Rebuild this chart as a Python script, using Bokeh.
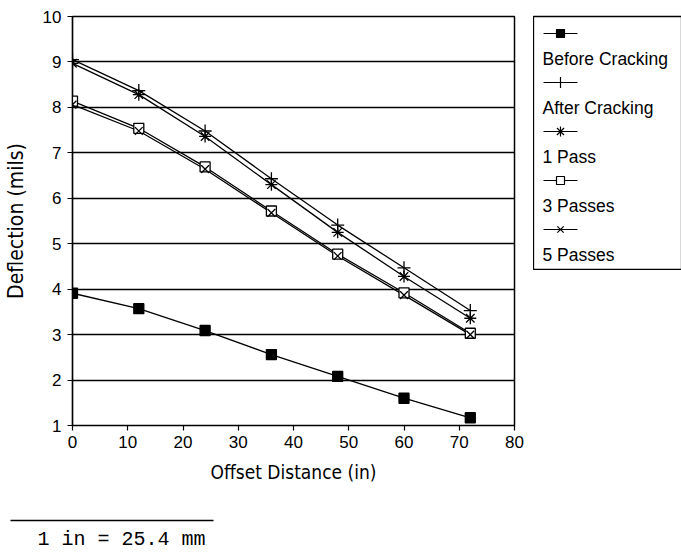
from bokeh.plotting import figure
from bokeh.layouts import row, column
from bokeh.models import Range1d, FixedTicker
from bokeh.core.properties import value
from bokeh.embed import file_html
from bokeh.resources import INLINE

offset = [0, 12, 24, 36, 48, 60, 72]
before_cracking = [3.91, 3.57, 3.09, 2.56, 2.08, 1.60, 1.17]
after_cracking = [9.05, 8.37, 7.48, 6.43, 5.41, 4.47, 3.53]
one_pass = [8.97, 8.28, 7.36, 6.30, 5.25, 4.28, 3.36]
three_passes = [8.14, 7.54, 6.69, 5.72, 4.77, 3.92, 3.03]
five_passes = [8.06, 7.48, 6.64, 5.68, 4.73, 3.87, 3.00]

labels = ["Before Cracking", "After Cracking", "1 Pass", "3 Passes", "5 Passes"]
series = [before_cracking, after_cracking, one_pass, three_passes, five_passes]
markers = ["square", "cross", "asterisk", "square", "x"]
fills = ["black", None, None, "white", None]
msizes = [10, 13, 12, 10, 11]

x_ticks = [0, 10, 20, 30, 40, 50, 60, 70, 80]
y_ticks = [1, 2, 3, 4, 5, 6, 7, 8, 9, 10]

TICK_FONT = "Liberation Sans"
TITLE_FONT = "'DejaVu Sans Condensed', 'DejaVu Sans'"

p = figure(frame_width=442, frame_height=409, min_border_left=63, min_border_right=19,
           min_border_top=16, min_border_bottom=70,
           x_range=Range1d(0, 80), y_range=Range1d(1, 10),
           output_backend="svg", toolbar_location=None)
p.outline_line_color = "black"
p.outline_line_width = 1.5
p.background_fill_color = "white"
p.border_fill_color = "white"
p.xgrid.visible = False
p.ygrid.grid_line_color = "black"
p.ygrid.grid_line_width = 1.4
p.ygrid.ticker = FixedTicker(ticks=y_ticks)

p.xaxis.ticker = FixedTicker(ticks=x_ticks)
p.yaxis.ticker = FixedTicker(ticks=y_ticks)
for ax in (p.xaxis[0], p.yaxis[0]):
    ax.axis_line_color = "black"
    ax.axis_line_width = 1.2
    ax.major_tick_line_color = "black"
    ax.major_tick_line_width = 1.2
    ax.major_tick_in = 0
    ax.major_tick_out = 5
    ax.minor_tick_line_color = None
    ax.major_label_text_font = TICK_FONT
    ax.major_label_text_font_size = "17px"
    ax.major_label_text_color = "black"
    ax.axis_label_text_font = TITLE_FONT
    ax.axis_label_text_font_style = "normal"
    ax.axis_label_text_color = "black"
p.xaxis.axis_label_text_font_size = "19px"
p.yaxis.axis_label_text_font_size = "21px"
p.xaxis.axis_label = "Offset Distance (in)"
p.yaxis.axis_label = "Deflection (mils)"
p.xaxis.major_label_standoff = 5
p.yaxis.major_label_standoff = 6
p.xaxis.axis_label_standoff = 10
p.yaxis.axis_label_standoff = 12

for ys, mk, fc, ms in zip(series, markers, fills, msizes):
    p.line(offset, ys, line_color="black", line_width=1.3)
for ys, mk, fc, ms in zip(series, markers, fills, msizes):
    p.scatter(offset, ys, marker=mk, size=ms, line_color="black", line_width=1.3,
              fill_color=fc)

# legend panel
lg = figure(frame_width=149, frame_height=254, min_border_left=0, min_border_right=0,
            min_border_top=16, min_border_bottom=0,
            x_range=Range1d(0, 149), y_range=Range1d(254, 0),
            x_axis_type=None, y_axis_type=None,
            output_backend="svg", toolbar_location=None)
lg.grid.visible = False
lg.outline_line_color = "black"
lg.outline_line_width = 1.3
lg.border_fill_color = "white"
step = 49
for i, (lab, mk, fc, ms) in enumerate(zip(labels, markers, fills, msizes)):
    ys = 17 + step * i
    lg.line([10, 44], [ys, ys], line_color="black", line_width=1.2)
    lg.scatter([27], [ys], marker=mk, size=ms - 2, line_color="black", line_width=1.2,
               fill_color=fc)
    lg.text([9], [ys + 25], text=[lab], text_font=value(TICK_FONT), text_font_size="17.5px",
            text_baseline="middle", text_align="left", text_color="black")

# footnote panel
ft = figure(width=665, height=58, min_border=0,
            x_range=Range1d(0, 665), y_range=Range1d(58, 0),
            x_axis_type=None, y_axis_type=None,
            output_backend="svg", toolbar_location=None)
ft.grid.visible = False
ft.outline_line_color = None
ft.border_fill_color = "white"
ft.line([10, 213], [25, 25], line_color="black", line_width=1.3)
ft.text([37], [44], text=["1 in = 25.4 mm"], text_font=value("Liberation Mono"),
        text_font_size="20px", text_baseline="middle", text_align="left", text_color="black")

layout = column(row(p, lg), ft)
open("out.html", "w").write(file_html(layout, INLINE))
